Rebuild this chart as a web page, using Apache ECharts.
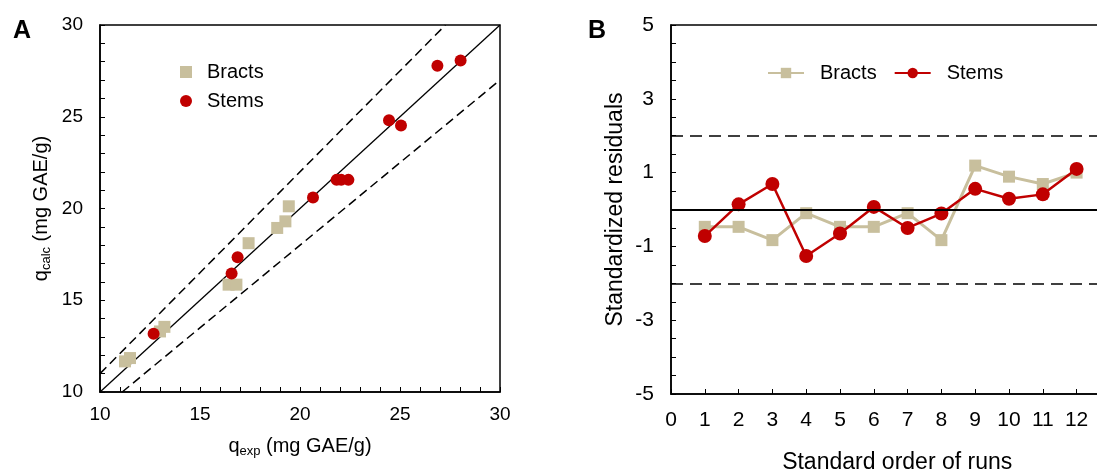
<!DOCTYPE html>
<html>
<head>
<meta charset="utf-8">
<script src="https://cdn.jsdelivr.net/npm/echarts@6/dist/echarts.min.js"></script>
<style>html,body{margin:0;padding:0;background:#fff;}#c{width:1097px;height:470px;}</style>
</head>
<body>
<div id="c"></div>
<script>
// ---- Panel A data ----
const bractsExp  = [11.25, 11.5, 13.0, 13.22, 16.43, 16.82, 17.43, 18.86, 19.27, 19.44];
const bractsCalc = [11.67, 11.85, 13.3, 13.55, 15.85, 15.85, 18.11, 18.94, 19.3, 20.12];
const stemsExp   = [12.68, 16.58, 16.88, 20.65, 21.83, 22.06, 22.42, 24.45, 25.05, 26.87, 28.03];
const stemsCalc  = [13.17, 16.46, 17.34, 20.6, 21.56, 21.56, 21.56, 24.81, 24.52, 27.78, 28.07];
const identityLine = [[10, 10], [30, 30]];
const upperLine    = [[10, 11], [27.2727, 30]];
const lowerLine    = [[11.1111, 10], [30, 27]];
// ---- Panel B data ----
const runs      = [1, 2, 3, 4, 5, 6, 7, 8, 9, 10, 11, 12];
const bractsRes = [-0.47, -0.47, -0.83, -0.1, -0.47, -0.47, -0.1, -0.83, 1.19, 0.89, 0.69, 1.0];
const stemsRes  = [-0.72, 0.14, 0.69, -1.26, -0.65, 0.07, -0.5, -0.11, 0.56, 0.29, 0.41, 1.1];
const residualLimits = [2, 0, -2];

const FONT = 'Liberation Sans, Arial, sans-serif';
const TAN = '#C8BF9D';
const RED = '#C00000';
const zip = (a, b) => a.map((v, i) => [v, b[i]]);

const chart = echarts.init(document.getElementById('c'), null, {renderer: 'canvas'});

const axisCommon = {
  axisLine: {show: true, onZero: false, lineStyle: {color: '#000', width: 1.5}},
  axisTick: {show: true, inside: true, length: 5, lineStyle: {color: '#000', width: 1}},
  splitLine: {show: false},
  minorTick: {show: false}
};

const option = {
  animation: false,
  backgroundColor: '#fff',
  textStyle: {fontFamily: FONT},
  graphic: [
    {type: 'text', left: 13, top: 19, style: {text: 'A', font: 'bold 25px ' + FONT, fill: '#000'}},
    {type: 'text', left: 588, top: 19, style: {text: 'B', font: 'bold 25px ' + FONT, fill: '#000'}}
  ],
  grid: [
    {left: 100, top: 25, width: 400, height: 367, show: true, borderColor: '#000', borderWidth: 1.5,
     backgroundColor: 'transparent', containLabel: false, outerBoundsMode: 'none'},
    {left: 671, top: 25, width: 439.4, height: 369, show: true, borderColor: '#000', borderWidth: 1.5,
     backgroundColor: 'transparent', containLabel: false, outerBoundsMode: 'none'}
  ],
  legend: [
    {
      orient: 'vertical', left: 175, top: 57, itemWidth: 12, itemHeight: 12, itemGap: 9,
      data: [{name: 'Bracts', icon: 'rect'}, {name: 'Stems', icon: 'circle'}],
      textStyle: {fontFamily: FONT, fontSize: 20, color: '#000', padding: [0, 0, 0, 10]}
    },
    {
      orient: 'horizontal', left: 762, top: 58, itemWidth: 36, itemHeight: 13, itemGap: 17,
      data: ['Bracts ', 'Stems '],
      formatter: n => n.trim(),
      textStyle: {fontFamily: FONT, fontSize: 20, color: '#000', padding: [0, 0, 0, 11]}
    }
  ],
  xAxis: [
    Object.assign({}, axisCommon, {
      gridIndex: 0, type: 'value', min: 10, max: 30, interval: 1,
      axisLabel: {formatter: v => (v % 5 === 0 ? String(v) : ''), fontSize: 19, color: '#000', margin: 13, fontFamily: FONT},
      name: '{a|q}{b|exp}{a| (mg GAE/g)}', nameLocation: 'middle', nameGap: 42,
      nameTextStyle: {rich: {
        a: {fontSize: 20, fontFamily: FONT, color: '#000', lineHeight: 24, verticalAlign: 'middle'},
        b: {fontSize: 13, fontFamily: FONT, color: '#000', lineHeight: 13, verticalAlign: 'bottom'}
      }}
    }),
    Object.assign({}, axisCommon, {
      gridIndex: 1, type: 'value', min: 0, max: 13, interval: 1,
      axisLabel: {formatter: v => (v <= 12 ? String(v) : ''), fontSize: 21, color: '#000', margin: 16, fontFamily: FONT},
      name: 'Standard order of runs', nameLocation: 'middle', nameGap: 57,
      nameTextStyle: {fontSize: 23, fontFamily: FONT, color: '#000', padding: [0, 0, 0, 13]}
    })
  ],
  yAxis: [
    Object.assign({}, axisCommon, {
      gridIndex: 0, type: 'value', min: 10, max: 30, interval: 1,
      axisLabel: {formatter: v => (v % 5 === 0 ? String(v) : ''), fontSize: 19, color: '#000', margin: 17, fontFamily: FONT},
      name: '{a|q}{b|calc}{a| (mg GAE/g)}', nameLocation: 'middle', nameGap: 47,
      nameTextStyle: {rich: {
        a: {fontSize: 20, fontFamily: FONT, color: '#000', lineHeight: 24, verticalAlign: 'middle'},
        b: {fontSize: 13, fontFamily: FONT, color: '#000', lineHeight: 13, verticalAlign: 'bottom'}
      }}
    }),
    Object.assign({}, axisCommon, {
      gridIndex: 1, type: 'value', min: -5, max: 5, interval: 0.5,
      axisLabel: {formatter: v => (Number.isInteger(v) && Math.abs(v) % 2 === 1 ? String(v) : ''), fontSize: 21, color: '#000', margin: 17, fontFamily: FONT},
      name: 'Standardized residuals', nameLocation: 'middle', nameGap: 44,
      nameTextStyle: {fontSize: 23, fontFamily: FONT, color: '#000'}
    })
  ],
  series: [
    {type: 'line', xAxisIndex: 0, yAxisIndex: 0, data: identityLine, symbol: 'none', silent: true,
     lineStyle: {color: '#000', width: 1.3}, z: 1},
    {type: 'line', xAxisIndex: 0, yAxisIndex: 0, data: upperLine, symbol: 'none', silent: true,
     lineStyle: {color: '#000', width: 1.5, type: [9, 5]}, z: 1},
    {type: 'line', xAxisIndex: 0, yAxisIndex: 0, data: lowerLine, symbol: 'none', silent: true,
     lineStyle: {color: '#000', width: 1.5, type: [9, 5]}, z: 1},
    {name: 'Bracts', type: 'scatter', xAxisIndex: 0, yAxisIndex: 0, data: zip(bractsExp, bractsCalc),
     symbol: 'rect', symbolSize: 12, itemStyle: {color: TAN, opacity: 1}, z: 3},
    {name: 'Stems', type: 'scatter', xAxisIndex: 0, yAxisIndex: 0, data: zip(stemsExp, stemsCalc),
     symbol: 'circle', symbolSize: 12, itemStyle: {color: RED, opacity: 1}, z: 4},
    {type: 'line', xAxisIndex: 1, yAxisIndex: 1, data: [], silent: true,
     markLine: {silent: true, symbol: 'none', label: {show: false},
       data: residualLimits.map(v => ({yAxis: v, lineStyle: {color: '#000', width: v === 0 ? 2 : 1.5, type: v === 0 ? 'solid' : [12, 7]}}))}, z: 1},
    {name: 'Bracts ', type: 'line', xAxisIndex: 1, yAxisIndex: 1, data: zip(runs, bractsRes),
     symbol: 'rect', symbolSize: 12, showSymbol: true, lineStyle: {color: TAN, width: 3}, itemStyle: {color: TAN, opacity: 1}, z: 3},
    {name: 'Stems ', type: 'line', xAxisIndex: 1, yAxisIndex: 1, data: zip(runs, stemsRes),
     symbol: 'circle', symbolSize: 14, showSymbol: true, lineStyle: {color: RED, width: 2.5}, itemStyle: {color: RED, opacity: 1}, z: 4}
  ]
};
chart.setOption(option);
</script>
</body>
</html>
